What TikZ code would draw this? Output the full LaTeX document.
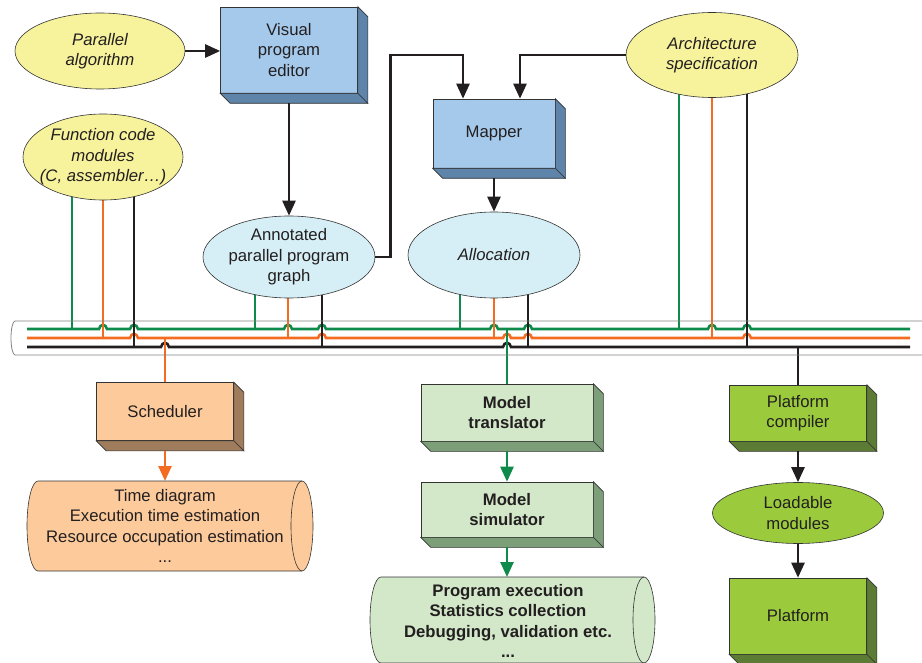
\documentclass[tikz,border=0pt]{standalone}
\usepackage{fontspec}
\setmainfont{Liberation Sans}
\usetikzlibrary{shapes.geometric,arrows.meta}
\pgfdeclarelayer{bg}
\pgfsetlayers{bg,main}
\definecolor{yel}{HTML}{F7F29C}
\definecolor{lbluef}{HTML}{A5C9EB}
\definecolor{lblues}{HTML}{5E84A9}
\definecolor{lbluee}{HTML}{D6EEF5}
\definecolor{orf}{HTML}{FDCB9B}
\definecolor{ors}{HTML}{9E7C5C}
\definecolor{lgf}{HTML}{D2E8C9}
\definecolor{lgs}{HTML}{7C9E78}
\definecolor{grf}{HTML}{9BCB3D}
\definecolor{grs}{HTML}{5C7B35}
\definecolor{busg}{HTML}{0E8A4B}
\definecolor{buso}{HTML}{F36C21}
\definecolor{busk}{HTML}{231F20}
\definecolor{edge}{HTML}{333333}
\definecolor{txtc}{HTML}{231F20}
\tikzset{
  fnt/.style={font=\fontsize{16.7pt}{20.5pt}\selectfont, text=txtc, align=center},
  fnti/.style={font=\fontsize{16.7pt}{20.5pt}\selectfont\itshape, text=txtc, align=center},
  fntb/.style={font=\fontsize{16.7pt}{20.5pt}\selectfont\bfseries, text=txtc, align=center},
  ell/.style={ellipse, draw=edge, line width=0.6pt, fill=#1, inner sep=0pt},
  fbox/.style={rectangle, draw=edge, line width=0.6pt, fill=#1, inner sep=0pt},
  pipe/.style={draw=gray, line width=0.8pt},
  gline/.style={draw=busg, line width=2.6pt},
  oline/.style={draw=buso, line width=2.6pt},
  kline/.style={draw=busk, line width=2.6pt},
  karr/.style={draw=busk, line width=2.5pt, -{Triangle[length=15pt,width=13pt]}},
  garr/.style={draw=busg, line width=2.5pt, -{Triangle[length=15pt,width=13pt]}},
  oarr/.style={draw=buso, line width=2.5pt, -{Triangle[length=15pt,width=13pt]}},
}
\newcommand\boxsides[2]{%
  \filldraw[fill=#2, draw=edge, line width=0.6pt] (#1.north east) -- ++(10,10) -- ([shift={(10,10)}]#1.south east) -- (#1.south east) -- cycle;
  \filldraw[fill=#2, draw=edge, line width=0.6pt] (#1.south west) -- (#1.south east) -- ([shift={(10,10)}]#1.south east) -- ([shift={(10,10)}]#1.south west) -- cycle;}
\begin{document}
\begin{tikzpicture}[x=1pt,y=-1pt]
\clip (0,0) rectangle (922,663);
% bus pipe
\draw[pipe] (922,321) -- (15,321) .. controls (12.8,321) and (11,328.6) .. (11,338) .. controls (11,347.4) and (12.8,355) .. (15,355) -- (922,355);
\coordinate (gbus) at (0,329);
\coordinate (obus) at (0,338);
\coordinate (kbus) at (0,347);

% top nodes
\node[ell=yel, minimum width=170pt, minimum height=76pt] (pa) at (100,51) {};
\node[fnti] at (pa) {Parallel\\algorithm};
\node[fbox=lbluef, minimum width=137pt, minimum height=86pt, fnt] (vpe) at (289,50) {Visual\\program\\editor};
\boxsides{vpe}{lblues}
\node[ell=yel, minimum width=160pt, minimum height=86pt] (fc) at (103,157) {};
\node[fnti] at (fc) {Function code\\modules\\(C, assembler…)};
\node[ell=lbluee, minimum width=172pt, minimum height=82pt] (ann) at (289,257) {};
\node[fnt] at (ann) {Annotated\\parallel program\\graph};
\node[fbox=lbluef, minimum width=122pt, minimum height=69pt, fnt] (map) at (494,133.5) {Mapper};
\boxsides{map}{lblues}
\node[ell=lbluee, minimum width=172pt, minimum height=86pt] (alloc) at (494,255) {};
\node[fnti] at (alloc) {Allocation};
\node[ell=yel, minimum width=172pt, minimum height=85pt] (as) at (712,55) {};
\node[fnti] at (as) {Architecture\\specification};

% bottom left
\node[fbox=orf, minimum width=137pt, minimum height=58pt, fnt] (sched) at (165,411.5) {Scheduler};
\boxsides{sched}{ors}
\filldraw[fill=orf, draw=edge, line width=0.6pt] (38,481) -- (302,481)
  .. controls (308.1,481) and (313,501.1) .. (313,526)
  .. controls (313,550.9) and (308.1,571) .. (302,571)
  -- (38,571)
  .. controls (31.9,571) and (27,550.9) .. (27,526)
  .. controls (27,501.1) and (31.9,481) .. (38,481) -- cycle;
\draw[draw=edge, line width=0.6pt] (302,481) .. controls (295.9,481) and (291,501.1) .. (291,526) .. controls (291,550.9) and (295.9,571) .. (302,571);
\coordinate (ocyltop) at (165,481);
\node[fnt] (ocyl) at (165,526) {Time diagram\\Execution time estimation\\Resource occupation estimation\\...};

% bottom middle
\node[fbox=lgf, minimum width=172pt, minimum height=57pt, fntb] (mt) at (507,412.5) {Model\\translator};
\boxsides{mt}{lgs}
\node[fbox=lgf, minimum width=172pt, minimum height=55pt, fntb] (ms) at (507,509.5) {Model\\simulator};
\boxsides{ms}{lgs}
\filldraw[fill=lgf, draw=edge, line width=0.6pt] (381,577) -- (644,577)
  .. controls (650.1,577) and (655,596.3) .. (655,620)
  .. controls (655,643.7) and (650.1,663) .. (644,663)
  -- (381,663)
  .. controls (374.9,663) and (370,643.7) .. (370,620)
  .. controls (370,596.3) and (374.9,577) .. (381,577) -- cycle;
\draw[draw=edge, line width=0.6pt] (644,577) .. controls (637.9,577) and (633,596.3) .. (633,620) .. controls (633,643.7) and (637.9,663) .. (644,663);
\coordinate (gcyltop) at (507,577);
\node[fntb] (gcyl) at (508,621) {Program execution\\Statistics collection\\Debugging, validation etc.\\...};

% bottom right
\node[fbox=grf, minimum width=137pt, minimum height=56pt, fnt] (pc) at (798,413) {Platform\\compiler};
\boxsides{pc}{grs}
\node[ell=grf, minimum width=171pt, minimum height=61pt] (lm) at (798,513) {};
\node[fnt] at (lm) {Loadable\\modules};
\node[fbox=grf, minimum width=137pt, minimum height=76pt, fnt] (pf) at (798,616) {Platform};
\boxsides{pf}{grs}

% arrows
\coordinate (m1) at (463,55);
\coordinate (m2) at (520,55);
\draw[karr] (pa.east) -- (pa.east -| vpe.west);
\draw[karr] ([yshift=-10pt]vpe.south) -- (ann.north);
\draw[karr] (ann.east) -- ++(15,0) |- (m1) -- (m1 |- map.north);
\draw[karr] (as.west) -- (m2) -- (m2 |- map.north);
\draw[karr] ([yshift=-10pt]map.south) -- (alloc.north);
\draw[oarr] ([yshift=-10pt]sched.south) -- (ocyltop);
\draw[garr] ([yshift=-10pt]mt.south) -- (ms.north);
\draw[garr] ([yshift=-10pt]ms.south) -- (gcyltop);
\draw[karr] ([yshift=-10pt]pc.south) -- (lm.north);
\draw[karr] (lm.south) -- (pf.north);

% bus lines and drops
\begin{pgfonlayer}{bg}
\draw[gline] (27,329) \foreach \h in {103,134,288,322,494,528,712,747}{ -- (\h-4,329) .. controls (\h-3,323.5) and (\h+3,323.5) .. (\h+4,329)} -- (910,329);
\draw[oline] (27,338) \foreach \h in {134,322,507,528,747}{ -- (\h-4,338) .. controls (\h-3,332.5) and (\h+3,332.5) .. (\h+4,338)} -- (910,338);
\draw[kline] (27,347) \foreach \h in {165,507}{ -- (\h-4,347) .. controls (\h-3,341.5) and (\h+3,341.5) .. (\h+4,347)} -- (910,347);
% drops from function code modules
\draw[gline] (fc.center) ++(-31,0) coordinate (t) -- (t |- gbus);
\draw[oline] (fc.center) coordinate (t) -- (t |- obus);
\draw[kline] (fc.center) ++(31,0) coordinate (t) -- (t |- kbus);
% drops from annotated graph
\draw[gline] (ann.center) ++(-34,0) coordinate (t) -- (t |- gbus);
\draw[oline] (ann.center) ++(-1,0) coordinate (t) -- (t |- obus);
\draw[kline] (ann.center) ++(33,0) coordinate (t) -- (t |- kbus);
% drops from allocation
\draw[gline] (alloc.center) ++(-34,0) coordinate (t) -- (t |- gbus);
\draw[oline] (alloc.center) coordinate (t) -- (t |- obus);
\draw[kline] (alloc.center) ++(34,0) coordinate (t) -- (t |- kbus);
% drops from architecture specification
\draw[gline] (as.center) ++(-33,0) coordinate (t) -- (t |- gbus);
\draw[oline] (as.center) coordinate (t) -- (t |- obus);
\draw[kline] (as.center) ++(35,0) coordinate (t) -- (t |- kbus);
% taps down
\draw[oline] (sched.north) -- (sched.north |- obus);
\draw[gline] (mt.north) -- (mt.north |- gbus);
\draw[kline] (pc.north) -- (pc.north |- kbus);
\end{pgfonlayer}
\end{tikzpicture}
\end{document}
